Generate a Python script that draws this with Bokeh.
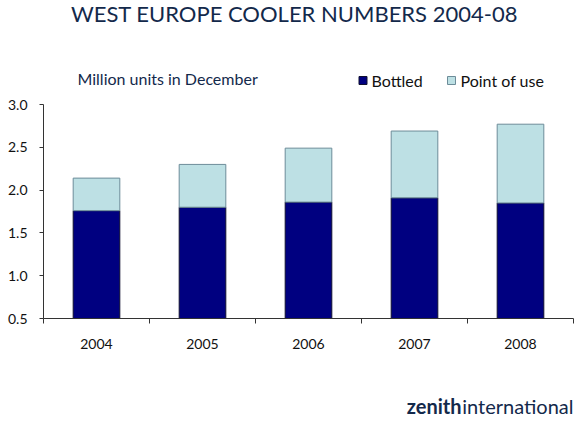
from bokeh.plotting import figure
from bokeh.layouts import column
from bokeh.models import ColumnDataSource, FixedTicker, Label, NumeralTickFormatter, Range1d
from bokeh.embed import file_html
from bokeh.resources import INLINE

years = ["2004", "2005", "2006", "2007", "2008"]
bottled = [1.76, 1.80, 1.86, 1.91, 1.85]
point_of_use = [0.38, 0.50, 0.63, 0.78, 0.92]
y_ticks = [0.5, 1.0, 1.5, 2.0, 2.5, 3.0]
series = ["Bottled", "Point of use"]

FONT = "Lato"
NAVY = "#000080"
LIGHT = "#bde0e4"
DARK = "#13294b"
INK = "#111111"

# page layout (px): the frame reaches the top of the page so the texts and
# legend marks above the axis are not clipped; the y axis spans 0.5 - 3.0 only
W = 576
H1, H2 = 365, 52
FL, FR, FB = 43, 573, 318
AXIS_TOP = 104
Y0, Y1 = y_ticks[0], y_ticks[-1]
px_per_unit = (FB - AXIS_TOP) / (Y1 - Y0)
y_end = Y0 + FB / px_per_unit


def to_data(px, py):
    return (px - FL) / (FR - FL) * len(years), Y0 + (FB - py) / px_per_unit


x_pos = [i + 0.5 for i in range(len(years))]
totals = [b + u for b, u in zip(bottled, point_of_use)]

p = figure(width=W, height=H1, x_range=Range1d(0, len(years)), y_range=Range1d(Y0, y_end),
           output_backend="svg", toolbar_location=None, tools="",
           min_border_left=FL, min_border_right=W - FR, min_border_top=0, min_border_bottom=H1 - FB)
p.outline_line_color = None
p.grid.grid_line_color = None

source = ColumnDataSource(dict(x=x_pos, bottled=bottled, totals=totals))
p.vbar(x="x", bottom=Y0, top="bottled", width=0.44, source=source,
       fill_color=NAVY, line_color="#101030", line_width=1)
p.vbar(x="x", bottom="bottled", top="totals", width=0.44, source=source,
       fill_color=LIGHT, line_color="#6d8c99", line_width=1)

# x axis: labels at bar centres, tick marks between the years
p.xaxis.ticker = FixedTicker(ticks=x_pos, minor_ticks=list(range(len(years) + 1)))
p.xaxis.major_label_overrides = {x: y for x, y in zip(x_pos, years)}
p.xaxis.major_tick_line_color = None
p.xaxis.major_tick_out = 0
p.xaxis.minor_tick_in = 0
p.xaxis.minor_tick_out = 5
p.xaxis.minor_tick_line_color = "#333333"
p.xaxis.major_label_standoff = 15

p.yaxis.ticker = FixedTicker(ticks=y_ticks)
p.yaxis.bounds = (Y0, Y1)
p.yaxis.formatter = NumeralTickFormatter(format="0.0")
p.yaxis.major_tick_in = 0
p.yaxis.major_tick_out = 4
p.yaxis.major_tick_line_color = "#333333"
p.yaxis.minor_tick_line_color = None
p.yaxis.major_label_standoff = 12

for ax in (p.xaxis, p.yaxis):
    ax.axis_line_color = "#333333"
    ax.major_label_text_font = FONT
    ax.major_label_text_font_size = "14px"
    ax.major_label_text_color = INK

# legend marks
for (px, py), fill, line in [((362.5, 80), NAVY, "#101030"), ((451, 80), LIGHT, "#6d8c99")]:
    lx, ly = to_data(px, py)
    p.scatter([lx], [ly], marker="square", size=8, fill_color=fill, line_color=line, line_width=1)


def add_text(fig, text, x, y, size, color=INK, align="left", baseline="middle", style="normal"):
    fig.add_layout(Label(x=x, y=y, x_units="screen", y_units="screen", text=text,
                         text_font=FONT, text_font_size=size, text_color=color,
                         text_align=align, text_baseline=baseline, text_font_style=style))


add_text(p, "WEST EUROPE COOLER NUMBERS 2004-08", 294 - FL, FB + 1, "22px", DARK, "center", "top")
add_text(p, "Million units in December", 77 - FL, FB - 78, "16px", DARK)
add_text(p, series[0], 371 - FL, FB - 80, "16px")
add_text(p, series[1], 460 - FL, FB - 80, "16px")

# company logo strip under the chart (its frame lines up with the chart frame)
logo = figure(width=W, height=H2, x_range=Range1d(0, W), y_range=Range1d(0, H2),
              output_backend="svg", toolbar_location=None, tools="",
              min_border=0, x_axis_type=None, y_axis_type=None)
logo.outline_line_color = None
logo.grid.grid_line_color = None
base = 12
add_text(logo, "international", 573 - FL, base, "20px", DARK, "right", "alphabetic")
add_text(logo, "zenith", 461 - FL, base, "20px", DARK, "right", "alphabetic", "bold")

open("out.html", "w").write(file_html(column(p, logo), INLINE))
